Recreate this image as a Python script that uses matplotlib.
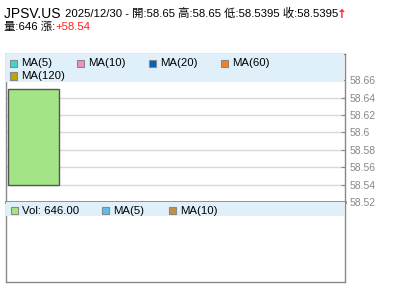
import numpy as np
import matplotlib
matplotlib.use("Agg")
import matplotlib.pyplot as plt
from matplotlib.patches import Rectangle

plt.rcParams["font.family"] = ["Liberation Sans", "Noto Sans CJK TC", "DejaVu Sans"]

symbol = "JPSV.US"
date = "2025/12/30"
open_px = [58.65]
high_px = [58.65]
low_px = [58.5395]
close_px = [58.5395]
volume = [646]
change = 58.54

price_ticks = [58.52, 58.54, 58.56, 58.58, 58.6, 58.62, 58.64, 58.66]
price_tick_labels = ["58.52", "58.54", "58.56", "58.58", "58.6", "58.62", "58.64", "58.66"]

price_legend = ["MA(5)", "MA(10)", "MA(20)", "MA(60)", "MA(120)"]
price_legend_colors = ["#44d4d0", "#f48cc4", "#0066b8", "#f48020", "#b8a800"]
vol_legend = ["Vol: 646.00", "MA(5)", "MA(10)"]
vol_legend_colors = ["#a4e484", "#54c0f0", "#c49040"]

W, H = 400, 301
fig = plt.figure(figsize=(W / 100, H / 100), dpi=100)


def px_axes(x0, y0, x1, y1):
    return fig.add_axes([x0 / W, 1 - y1 / H, (x1 - x0) / W, (y1 - y0) / H])


def px_text(x, y, s, **kw):
    return fig.text(x / W, 1 - y / H, s, va="center", ha="left", **kw)


# header, drawn piece by piece
fig.canvas.draw()
renderer = fig.canvas.get_renderer()


def chain(x, y, parts):
    for s, size, color in parts:
        t = px_text(x, y, s, fontsize=size, color=color)
        x += t.get_window_extent(renderer).width
    return x


line1 = [
    (symbol + " ", 10, "black"),
    (date + " - 開:%.2f 高:%.2f 低:%.4f 收:%.4f" % (open_px[0], high_px[0], low_px[0], close_px[0]), 8.2, "black"),
]
xe = chain(4.5, 13.5, line1)
px_text(xe - 1, 14, "↑", fontsize=8.5, color="#ff2020", fontweight="bold", family="DejaVu Sans")
chain(4.5, 26.5, [("量:%d 漲:" % volume[0], 8.2, "black"), ("+%.2f" % change, 8.2, "#ff2020")])

# price panel
ax = px_axes(5.5, 54.3, 345.3, 202)
ax.set_ylim(58.52, 58.69)
ax.set_xlim(-0.444, 4.952)
for y in price_ticks[1:-1]:
    ax.axhline(y, color="#d8d8d8", lw=1, zorder=0)
ax.bar([0], [open_px[0] - close_px[0]], bottom=[close_px[0]], width=0.8,
       color="#a2e486", edgecolor="#555555", lw=1, zorder=2)
ax.set_yticks(price_ticks)
ax.set_yticklabels(price_tick_labels)
ax.yaxis.tick_right()
ax.tick_params(axis="y", direction="in", length=3, color="#888888",
               labelcolor="#888888", labelsize=7.5, pad=3)
ax.set_xticks([])
for side in ax.spines.values():
    side.set_color("#888888")
    side.set_linewidth(1)
ax.spines["bottom"].set_linewidth(2)
ax.add_patch(Rectangle((0, 0.81), 0.995, 0.19, transform=ax.transAxes,
                       color="#dff0fa", zorder=3, lw=0))

# volume panel
vax = px_axes(5.5, 202, 345.3, 282.3)
vax.set_xticks([])
vax.set_yticks([])
for side in vax.spines.values():
    side.set_color("#888888")
    side.set_linewidth(1)
vax.spines["top"].set_visible(False)
vax.add_patch(Rectangle((0, 0.825), 0.995, 0.175, transform=vax.transAxes,
                        color="#dff0fa", zorder=3, lw=0))


def legend_row(labels, colors, xs, y):
    for lab, c, x in zip(labels, colors, xs):
        fig.patches.append(Rectangle((x / W, 1 - (y + 3.5) / H), 7 / W, 7 / H,
                                     transform=fig.transFigure, facecolor=c,
                                     edgecolor="#888888", lw=0.8, zorder=5))
        px_text(x + 11, y, lab, fontsize=8.2, color="black", zorder=6)


legend_row(price_legend[:4], price_legend_colors[:4], [10.3, 77.3, 148.7, 220.7], 63.3)
legend_row(price_legend[4:], price_legend_colors[4:], [10.3], 76)
legend_row(vol_legend, vol_legend_colors, [10.7, 102, 168.7], 210.7)

fig.savefig("out.png", dpi=100)
